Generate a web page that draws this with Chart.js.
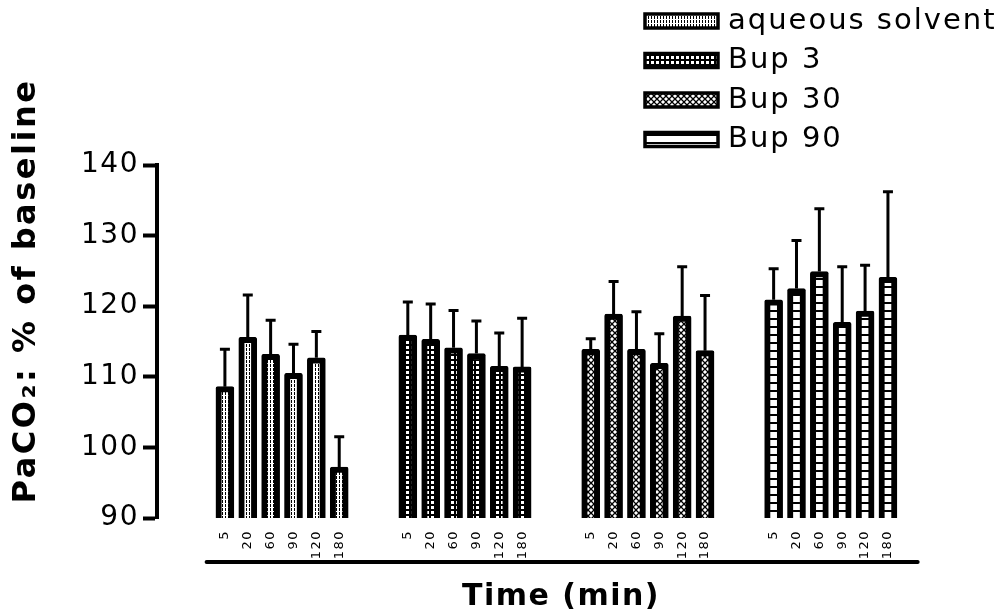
<!DOCTYPE html>
<html>
<head>
<meta charset="utf-8">
<script src="https://cdn.jsdelivr.net/npm/chart.js@4.4.1/dist/chart.umd.min.js"></script>
<style>
  html, body { margin: 0; padding: 0; background: #fff; }
  #caixa { position: relative; width: 1005px; height: 615px; }
</style>
</head>
<body>
<div id="caixa"><canvas id="grafico_paco2"></canvas></div>
<script>
// PaCO2 em % do basal, 4 grupos x 6 tempos (media + EPM)
const time_labels = ['5', '20', '60', '90', '120', '180'];
const series_names = ['aqueous solvent', 'Bup 3', 'Bup 30', 'Bup 90'];

const solvent_mean = [108.6, 115.6, 113.2, 110.5, 112.7, 97.2];
const solvent_sem = [5.3, 6.0, 4.8, 4.1, 3.7, 4.3];
const bup3_mean = [115.9, 115.3, 114.1, 113.3, 111.5, 111.4];
const bup3_sem = [4.7, 5.0, 5.3, 4.6, 4.7, 6.9];
const bup30_mean = [113.9, 118.9, 113.9, 111.9, 118.6, 113.7];
const bup30_sem = [1.5, 4.6, 5.3, 4.2, 7.0, 7.8];
const bup90_mean = [120.9, 122.5, 124.9, 117.7, 119.3, 124.1];
const bup90_sem = [4.4, 6.8, 8.9, 7.9, 6.5, 12.1];

const y_ticks = [90, 100, 110, 120, 130, 140];

const medias = [solvent_mean, bup3_mean, bup30_mean, bup90_mean];
const erros = [solvent_sem, bup3_sem, bup30_sem, bup90_sem];

// cada grupo ocupa 6 posicoes + 2 vazias no eixo x
const slot = (g, j) => g * 8 + j;
const posicoes = [];
medias.forEach((m, g) => m.forEach((v, j) => posicoes.push(slot(g, j))));

/* hachuras das barras */
function hachura(tipo) {
    const c = document.createElement('canvas');
    const g = c.getContext('2d');
    if (tipo === 0) {
        c.width = 3; c.height = 4;
        g.fillStyle = '#fff'; g.fillRect(0, 0, 3, 4);
        g.fillStyle = '#000'; g.fillRect(0, 0, 1, 3);
    } else if (tipo === 1) {
        c.width = 5; c.height = 5;
        g.fillStyle = '#000'; g.fillRect(0, 0, 5, 5);
        g.fillStyle = '#fff'; g.fillRect(1, 1, 3, 3);
    } else if (tipo === 2) {
        c.width = 6; c.height = 6;
        g.fillStyle = '#fff'; g.fillRect(0, 0, 6, 6);
        g.strokeStyle = '#000'; g.lineWidth = 1.3;
        g.beginPath();
        g.moveTo(0, 0); g.lineTo(6, 6);
        g.moveTo(6, 0); g.lineTo(0, 6);
        g.stroke();
    } else {
        c.width = 2; c.height = 8;
        g.fillStyle = '#fff'; g.fillRect(0, 0, 2, 8);
        g.fillStyle = '#000'; g.fillRect(0, 6, 2, 2);
    }
    return g.createPattern(c, 'repeat');
}

const datasets = series_names.map((nome, g) => ({
    label: nome,
    data: medias[g].map((v, j) => ({ x: slot(g, j), y: v })),
    sem: erros[g],
    backgroundColor: hachura(g),
    borderColor: '#000',
    borderWidth: 6,
    borderSkipped: false,
    borderRadius: 2,
    barThickness: 18,
    grouped: false
}));

/* barras de erro (so para cima) */
const barras_erro = {
    id: 'barras_erro',
    afterDatasetsDraw(chart) {
        const ctx = chart.ctx;
        const y = chart.scales.y;
        ctx.save();
        ctx.strokeStyle = '#000';
        ctx.lineWidth = 3;
        chart.data.datasets.forEach((ds, d) => {
            chart.getDatasetMeta(d).data.forEach((bar, i) => {
                const topo = y.getPixelForValue(ds.data[i].y + ds.sem[i]);
                ctx.beginPath();
                ctx.moveTo(bar.x, bar.y);
                ctx.lineTo(bar.x, topo);
                ctx.moveTo(bar.x - 5, topo);
                ctx.lineTo(bar.x + 5, topo);
                ctx.stroke();
            });
        });
        ctx.restore();
    }
};

/* espacamento das letras e linha solta do eixo x */
const eixo_x_solto = {
    id: 'eixo_x_solto',
    beforeDraw(chart) {
        chart.ctx.letterSpacing = '1.5px';
    },
    afterDraw(chart) {
        const ctx = chart.ctx;
        const x = chart.scales.x;
        ctx.letterSpacing = '0px';
        ctx.save();
        ctx.strokeStyle = '#000';
        ctx.lineWidth = 4;
        ctx.lineCap = 'round';
        ctx.beginPath();
        ctx.moveTo(x.getPixelForValue(-0.8), x.top + 44);
        ctx.lineTo(x.getPixelForValue(30.3), x.top + 44);
        ctx.stroke();
        ctx.restore();
    }
};

/* legenda em coluna no canto superior direito + titulo do eixo y */
const legenda_manual = {
    id: 'legenda_manual',
    afterDraw(chart) {
        const ctx = chart.ctx;
        ctx.save();
        ctx.letterSpacing = '2px';
        ctx.textBaseline = 'middle';
        ctx.font = '29px "DejaVu Sans"';
        chart.data.datasets.forEach((ds, i) => {
            const yc = 21 + i * 39.5;
            ctx.fillStyle = ds.backgroundColor;
            ctx.fillRect(645, yc - 7, 73, 14);
            ctx.lineWidth = 3.5;
            ctx.strokeStyle = '#000';
            ctx.strokeRect(645, yc - 7, 73, 14);
            ctx.fillStyle = '#000';
            ctx.fillText(ds.label, 728, yc);
        });
        ctx.translate(27, 291);
        ctx.rotate(-Math.PI / 2);
        ctx.textAlign = 'center';
        ctx.letterSpacing = '2.5px';
        ctx.font = 'bold 32px "DejaVu Sans"';
        ctx.fillText('PaCO\u2082: % of baseline', 0, 0);
        ctx.restore();
    }
};

const config_paco2 = {
    type: 'bar',
    data: { datasets: datasets },
    options: {
        responsive: true,
        maintainAspectRatio: false,
        animation: false,
        layout: { padding: { top: 165, left: 0, right: 40, bottom: 0 } },
        plugins: {
            legend: { display: false },
            tooltip: { enabled: false }
        },
        scales: {
            x: {
                type: 'linear',
                offset: false,
                min: -2.97,
                max: 32.37,
                grid: { display: false },
                border: { display: false },
                afterBuildTicks: s => { s.ticks = posicoes.map(v => ({ value: v })); },
                afterFit: s => { s.height = 97; },
                ticks: {
                    autoSkip: false,
                    minRotation: 90,
                    maxRotation: 90,
                    padding: 4,
                    color: '#000',
                    font: { family: 'DejaVu Sans', size: 13 },
                    callback: v => time_labels[v % 8]
                },
                title: {
                    display: true,
                    text: 'Time (min)',
                    color: '#000',
                    font: { family: 'DejaVu Sans', size: 30, weight: 'bold' },
                    padding: { top: 0, bottom: 0 }
                }
            },
            y: {
                min: 90,
                max: 140,
                afterBuildTicks: s => { s.ticks = y_ticks.map(v => ({ value: v })); },
                afterFit: s => { s.width = 157; },
                grid: {
                    display: true,
                    drawOnChartArea: false,
                    drawTicks: true,
                    tickLength: 14,
                    tickWidth: 4,
                    tickColor: '#000'
                },
                border: { display: true, width: 4, color: '#000' },
                ticks: {
                    padding: 4,
                    color: '#000',
                    font: { family: 'DejaVu Sans', size: 28 }
                }
            }
        }
    },
    plugins: [eixo_x_solto, barras_erro, legenda_manual]
};

const grafico_paco2 = new Chart(
    document.getElementById('grafico_paco2'),
    config_paco2
);
</script>
</body>
</html>
